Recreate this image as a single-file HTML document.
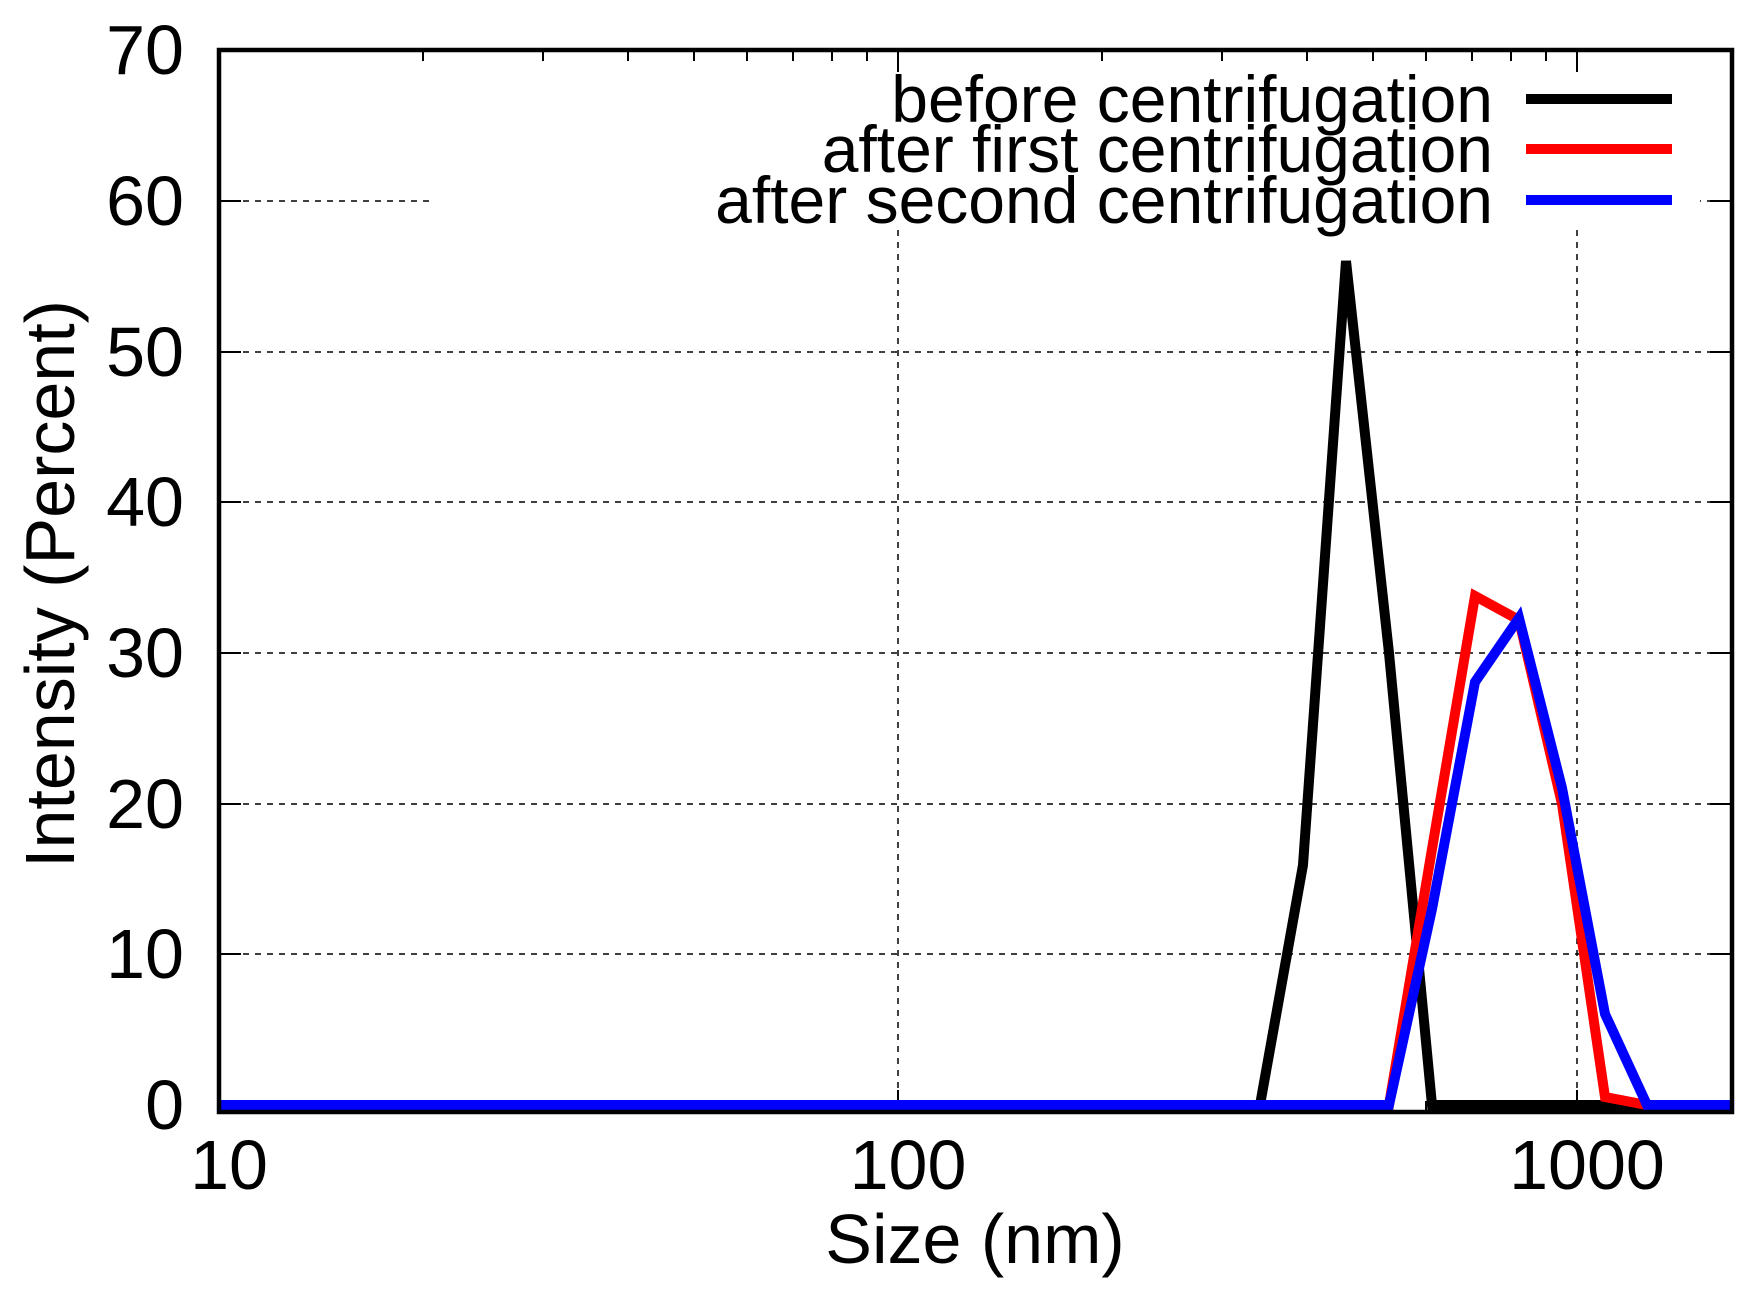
<!DOCTYPE html>
<html><head><meta charset="utf-8"><style>
html,body{margin:0;padding:0;background:#fff;}
svg{display:block;font-family:"Liberation Sans",sans-serif;}
</style></head><body>
<svg width="1753" height="1292" viewBox="0 0 1753 1292" xmlns="http://www.w3.org/2000/svg">
<rect width="1753" height="1292" fill="#fff"/>
<g stroke="#000" stroke-width="1.5" stroke-dasharray="6,6" fill="none">
<line x1="219" y1="954" x2="1732" y2="954"/>
<line x1="219" y1="804" x2="1732" y2="804"/>
<line x1="219" y1="653" x2="1732" y2="653"/>
<line x1="219" y1="502" x2="1732" y2="502"/>
<line x1="219" y1="352" x2="1732" y2="352"/>
<line x1="219" y1="201" x2="1732" y2="201"/>
<line x1="898" y1="50" x2="898" y2="1112"/>
<line x1="1577" y1="50" x2="1577" y2="1112"/>
</g>
<rect x="430" y="52" width="1270" height="176" fill="#fff"/>
<g stroke="#000" stroke-width="2" fill="none">
<path d="M219 1105h22M219 954h22M219 804h22M219 653h22M219 502h22M219 352h22M219 201h22M219 50h22
M1732 1105h-22M1732 954h-22M1732 804h-22M1732 653h-22M1732 502h-22M1732 352h-22M1732 201h-22"/>
<path d="M898 1112v-22M1577 1112v-22M898 50v22M1577 50v22"/>
<path d="M423 1112v-11M543 1112v-11M628 1112v-11M694 1112v-11M747 1112v-11M793 1112v-11M832 1112v-11M867 1112v-11
M1102 1112v-11M1222 1112v-11M1307 1112v-11M1373 1112v-11M1426 1112v-11M1472 1112v-11M1511 1112v-11M1546 1112v-11
M423 50v11M543 50v11M628 50v11M694 50v11M747 50v11M793 50v11M832 50v11M867 50v11
M1102 50v11M1222 50v11M1307 50v11M1373 50v11M1426 50v11M1472 50v11M1511 50v11M1546 50v11"/>
</g>
<g fill="none" stroke-width="10" stroke-linejoin="miter">
<polyline stroke="#000" points="219,1105 1260,1105 1303,865 1346,261 1389,653 1432,1105 1732,1105"/>
<polyline stroke="#f00" points="219,1105 1389,1105 1432,849 1475,596 1519,620 1562,804 1605,1097 1647,1105 1732,1105"/>
<polyline stroke="#00f" points="219,1105 1389,1105 1432,909 1475,682 1519,618 1562,788 1605,1014 1647,1105 1732,1105"/>
</g>
<rect x="219" y="50" width="1513" height="1062" fill="none" stroke="#000" stroke-width="4.5"/>
<g font-size="70" text-anchor="end" fill="#000">
<text x="184" y="1129">0</text>
<text x="184" y="978">10</text>
<text x="184" y="828">20</text>
<text x="184" y="677">30</text>
<text x="184" y="526">40</text>
<text x="184" y="376">50</text>
<text x="184" y="225">60</text>
<text x="184" y="74">70</text>
</g>
<g font-size="70" text-anchor="middle" fill="#000">
<text x="229" y="1189">10</text>
<text x="908" y="1189">100</text>
<text x="1587" y="1189">1000</text>
<text x="975" y="1263">Size (nm)</text>
<text transform="translate(74,584) rotate(-90)">Intensity (Percent)</text>
</g>
<g font-size="66" text-anchor="end" fill="#000">
<text x="1493" y="122">before centrifugation</text>
<text x="1493" y="172">after first centrifugation</text>
<text x="1493" y="223">after second centrifugation</text>
</g>
<g stroke-width="10">
<line x1="1526" y1="99" x2="1672" y2="99" stroke="#000"/>
<line x1="1526" y1="149" x2="1672" y2="149" stroke="#f00"/>
<line x1="1526" y1="200" x2="1672" y2="200" stroke="#00f"/>
</g>
</svg>
</body></html>
